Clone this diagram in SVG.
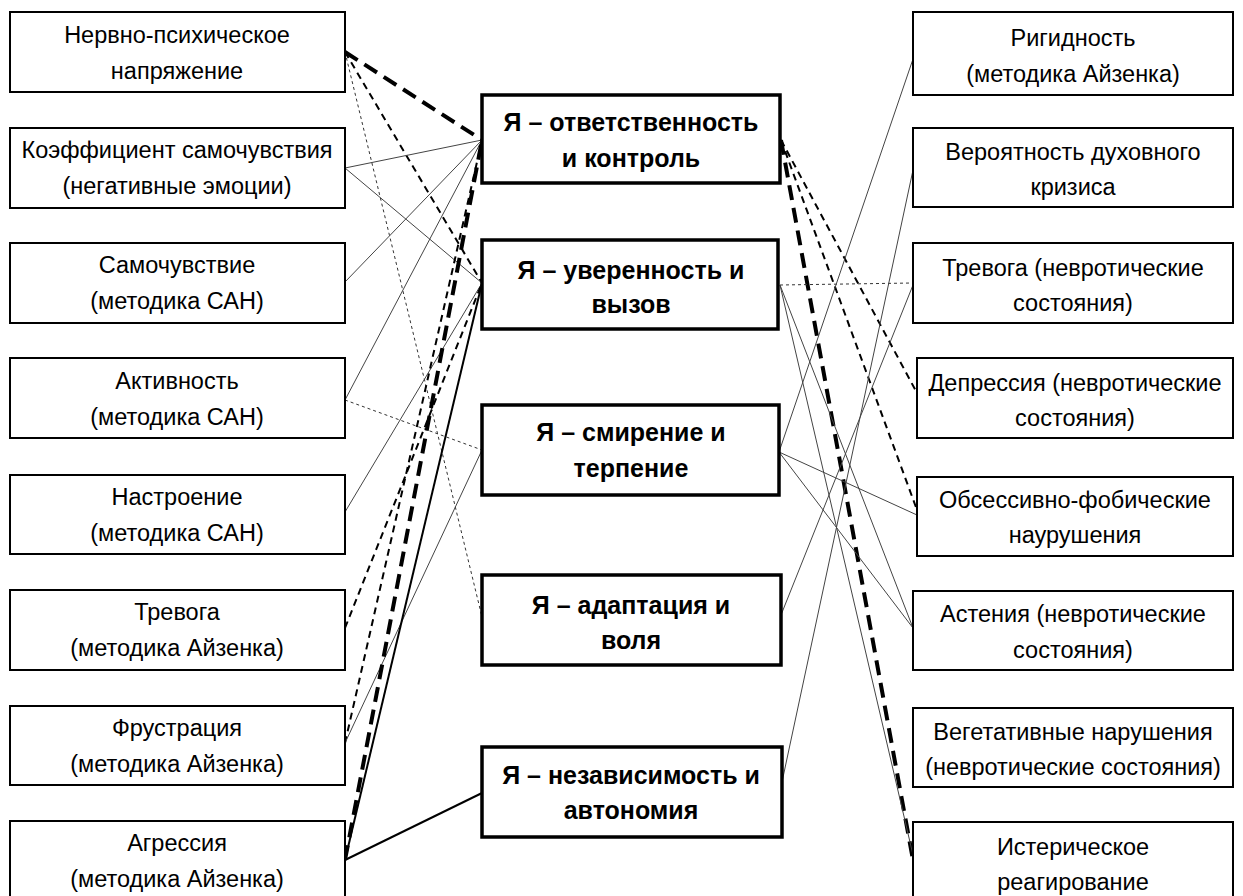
<svg xmlns="http://www.w3.org/2000/svg" width="1243" height="896" viewBox="0 0 1243 896">
<style>
.bg{fill:#fff}
.lb{fill:#fff;stroke:#000;stroke-width:2}
.cb{fill:#fff;stroke:#000;stroke-width:3.5}
text{font-family:"Liberation Sans",Arial,sans-serif;font-size:23.5px;fill:#000;text-anchor:middle}
.b{font-weight:bold;font-size:25px}
.thin{stroke:#444;stroke-width:1;fill:none}
.dot{stroke:#333;stroke-width:1;stroke-dasharray:3 3;fill:none}
.med{stroke:#000;stroke-width:2;stroke-dasharray:7 5;fill:none}
.thick{stroke:#000;stroke-width:4;stroke-dasharray:15 8;fill:none}
.sol{stroke:#000;stroke-width:2;fill:none}
</style>
<rect class="bg" x="0" y="0" width="1243" height="896"/>
<g id="connectors">
<line class="thick" x1="345" y1="52" x2="482" y2="140"/>
<line class="med" x1="345" y1="52" x2="482" y2="283"/>
<line class="dot" x1="345" y1="52" x2="482" y2="617"/>
<line class="thin" x1="345" y1="168" x2="482" y2="140"/>
<line class="thin" x1="345" y1="168" x2="482" y2="283"/>
<line class="thin" x1="345" y1="282" x2="482" y2="140"/>
<line class="thin" x1="345" y1="400" x2="482" y2="140"/>
<line class="dot" x1="345" y1="400" x2="482" y2="450"/>
<line class="thin" x1="345" y1="512" x2="482" y2="283"/>
<line class="med" x1="345" y1="628" x2="482" y2="283"/>
<line class="med" x1="345" y1="743" x2="482" y2="140"/>
<line class="thin" x1="345" y1="743" x2="482" y2="450"/>
<line class="thick" x1="345" y1="860" x2="482" y2="140"/>
<line class="sol" x1="345" y1="860" x2="482" y2="283"/>
<line class="sol" x1="345" y1="860" x2="482" y2="793"/>
<line class="med" x1="781" y1="140" x2="917" y2="393"/>
<line class="med" x1="781" y1="140" x2="917" y2="510"/>
<line class="thick" x1="781" y1="140" x2="913" y2="860"/>
<line class="dot" x1="780" y1="285" x2="913" y2="283"/>
<line class="thin" x1="780" y1="285" x2="913" y2="628"/>
<line class="thin" x1="780" y1="285" x2="913" y2="855"/>
<line class="thin" x1="779" y1="452" x2="913" y2="59"/>
<line class="thin" x1="779" y1="452" x2="917" y2="515"/>
<line class="thin" x1="779" y1="452" x2="913" y2="628"/>
<line class="thin" x1="781" y1="615" x2="913" y2="285"/>
<line class="thin" x1="782" y1="782" x2="913" y2="170"/>
</g>
<g id="L1"><rect class="lb" x="10" y="12" width="335" height="80"/><text x="177" y="43">Нервно-психическое</text><text x="177" y="79">напряжение</text></g>
<g id="L2"><rect class="lb" x="10" y="128" width="335" height="80"/><text x="177" y="158">Коэффициент самочувствия</text><text x="177" y="194">(негативные эмоции)</text></g>
<g id="L3"><rect class="lb" x="10" y="243" width="335" height="80"/><text x="177" y="273">Самочувствие</text><text x="177" y="309">(методика САН)</text></g>
<g id="L4"><rect class="lb" x="10" y="358" width="335" height="80"/><text x="177" y="389">Активность</text><text x="177" y="425">(методика САН)</text></g>
<g id="L5"><rect class="lb" x="10" y="475" width="335" height="79"/><text x="177" y="505">Настроение</text><text x="177" y="541">(методика САН)</text></g>
<g id="L6"><rect class="lb" x="10" y="590" width="335" height="80"/><text x="177" y="620">Тревога</text><text x="177" y="656">(методика Айзенка)</text></g>
<g id="L7"><rect class="lb" x="10" y="706" width="335" height="79"/><text x="177" y="736">Фрустрация</text><text x="177" y="772">(методика Айзенка)</text></g>
<g id="L8"><rect class="lb" x="10" y="821" width="335" height="90"/><text x="177" y="851">Агрессия</text><text x="177" y="887">(методика Айзенка)</text></g>

<g id="A"><rect class="cb" x="482" y="95" width="298" height="88"/><text class="b" x="631" y="131">Я – ответственность</text><text class="b" x="631" y="167">и контроль</text></g>
<g id="B"><rect class="cb" x="482" y="240" width="296" height="89"/><text class="b" x="631" y="279">Я – уверенность и</text><text class="b" x="631" y="313">вызов</text></g>
<g id="C"><rect class="cb" x="482" y="405" width="297" height="90"/><text class="b" x="631" y="441">Я – смирение и</text><text class="b" x="631" y="477">терпение</text></g>
<g id="D"><rect class="cb" x="482" y="575" width="299" height="90"/><text class="b" x="631" y="614">Я – адаптация и</text><text class="b" x="631" y="649">воля</text></g>
<g id="E"><rect class="cb" x="482" y="747" width="300" height="90"/><text class="b" x="631" y="784">Я – независимость и</text><text class="b" x="631" y="819">автономия</text></g>

<g id="R1"><rect class="lb" x="913" y="12" width="320" height="83"/><text x="1073" y="46">Ригидность</text><text x="1073" y="82">(методика Айзенка)</text></g>
<g id="R2"><rect class="lb" x="913" y="128" width="320" height="79"/><text x="1073" y="160">Вероятность духовного</text><text x="1073" y="195">кризиса</text></g>
<g id="R3"><rect class="lb" x="913" y="243" width="320" height="80"/><text x="1073" y="276">Тревога (невротические</text><text x="1073" y="311">состояния)</text></g>
<g id="R4"><rect class="lb" x="917" y="358" width="316" height="80"/><text x="1075" y="391">Депрессия (невротические</text><text x="1075" y="426">состояния)</text></g>
<g id="R5"><rect class="lb" x="917" y="477" width="316" height="79"/><text x="1075" y="508">Обсессивно-фобические</text><text x="1075" y="543">наурушения</text></g>
<g id="R6"><rect class="lb" x="913" y="591" width="320" height="79"/><text x="1073" y="622">Астения (невротические</text><text x="1073" y="658">состояния)</text></g>
<g id="R7"><rect class="lb" x="913" y="708" width="320" height="79"/><text x="1073" y="740">Вегетативные нарушения</text><text x="1073" y="775">(невротические состояния)</text></g>
<g id="R8"><rect class="lb" x="913" y="822" width="320" height="90"/><text x="1073" y="855">Истерическое</text><text x="1073" y="890">реагирование</text></g>
</svg>
